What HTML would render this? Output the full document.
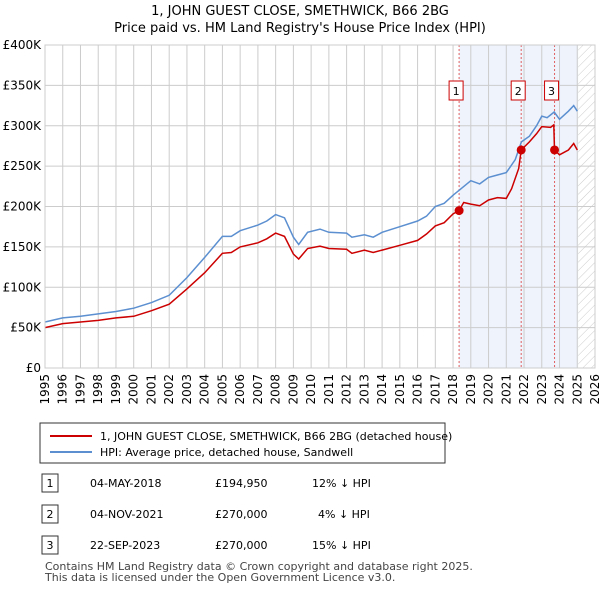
<!DOCTYPE html>
<html><head><meta charset="utf-8"><style>
body{margin:0;background:#fff;font-family:"DejaVu Sans","Liberation Sans",sans-serif;}
</style></head><body>
<svg width="600" height="590" xmlns="http://www.w3.org/2000/svg" font-family="DejaVu Sans, Liberation Sans, sans-serif">
<text x="300" y="15" text-anchor="middle" font-size="13">1, JOHN GUEST CLOSE, SMETHWICK, B66 2BG</text>
<text x="300" y="32" text-anchor="middle" font-size="13">Price paid vs. HM Land Registry's House Price Index (HPI)</text>
<defs><pattern id="hatch" width="6" height="6" patternUnits="userSpaceOnUse" patternTransform="rotate(45)"><line x1="0" y1="0" x2="0" y2="6" stroke="#ccc" stroke-width="1"/></pattern></defs>
<g id="plot"></g>
<g>
<rect x="40" y="423" width="405" height="40" fill="#fff" stroke="#333"/>
<line x1="50" y1="436" x2="92" y2="436" stroke="#cc0000" stroke-width="2"/>
<text x="100" y="440" font-size="11">1, JOHN GUEST CLOSE, SMETHWICK, B66 2BG (detached house)</text>
<line x1="50" y1="452" x2="92" y2="452" stroke="#5b8fd0" stroke-width="2"/>
<text x="100" y="456" font-size="11">HPI: Average price, detached house, Sandwell</text>
</g>
<g font-size="11">
<rect x="42" y="474" width="16" height="18" fill="#fff" stroke="#333"/><text x="50" y="487" text-anchor="middle">1</text>
<text x="90" y="487">04-MAY-2018</text><text x="215" y="487">£194,950</text><text x="312" y="487">12% ↓ HPI</text>
<rect x="42" y="505" width="16" height="18" fill="#fff" stroke="#333"/><text x="50" y="518" text-anchor="middle">2</text>
<text x="90" y="518">04-NOV-2021</text><text x="215" y="518">£270,000</text><text x="318" y="518">4% ↓ HPI</text>
<rect x="42" y="536" width="16" height="18" fill="#fff" stroke="#333"/><text x="50" y="549" text-anchor="middle">3</text>
<text x="90" y="549">22-SEP-2023</text><text x="215" y="549">£270,000</text><text x="312" y="549">15% ↓ HPI</text>
</g>
<text x="45" y="570" font-size="11" fill="#444">Contains HM Land Registry data © Crown copyright and database right 2025.</text>
<text x="45" y="581" font-size="11" fill="#444">This data is licensed under the Open Government Licence v3.0.</text>
</svg>
<script>
const hpiYears=[1995,1996,1997,1998,1999,2000,2001,2002,2003,2004,2005,2005.5,2006,2007,2007.5,2008,2008.5,2009,2009.3,2009.8,2010.5,2011,2012,2012.3,2013,2013.5,2014,2015,2016,2016.5,2017,2017.5,2018,2018.34,2019,2019.5,2020,2020.5,2021,2021.5,2021.85,2022.3,2022.7,2023,2023.3,2023.7,2024,2024.5,2024.8,2025];
const hpiValues=[57,62,64,67,70,74,81,90,112,137,163,163,170,177,182,190,186,162,153,168,172,168,167,162,165,162,168,175,182,188,200,204,214,220,232,228,236,239,242,258,280,287,300,312,310,317,308,318,325,318];
const priceYears=[1995,1996,1997,1998,1999,2000,2001,2002,2003,2004,2005,2005.5,2006,2007,2007.5,2008,2008.5,2009,2009.3,2009.8,2010.5,2011,2012,2012.3,2013,2013.5,2014,2015,2016,2016.5,2017,2017.5,2018,2018.34,2018.6,2019,2019.5,2020,2020.5,2021,2021.3,2021.7,2021.84,2022.3,2022.7,2023,2023.5,2023.68,2023.72,2024,2024.5,2024.8,2025];
const priceValues=[50,55,57,59,62,64,71,79,98,118,142,143,150,155,160,167,163,141,135,148,151,148,147,142,146,143,146,152,158,166,176,180,191,194.95,205,203,201,208,211,210,222,247,270,280,290,299,298,301,270,264,270,278,270];
const saleYears=[2018.34,2021.84,2023.72];
const saleValues=[194.95,270,270];
const saleLabels=["1","2","3"];
const yTicks=[0,50,100,150,200,250,300,350,400];
const yTickLabels=["£0","£50K","£100K","£150K","£200K","£250K","£300K","£350K","£400K"];
const xTicks=[1995,1996,1997,1998,1999,2000,2001,2002,2003,2004,2005,2006,2007,2008,2009,2010,2011,2012,2013,2014,2015,2016,2017,2018,2019,2020,2021,2022,2023,2024,2025,2026];
const X0=45,X1=595,Y0=368,Y1=45;
const xs=y=>X0+(y-1995)/(2026-1995)*(X1-X0);
const ys=v=>Y0-v/400*(Y0-Y1);
const NS="http://www.w3.org/2000/svg";
const g=document.getElementById('plot');
function mk(t,a){const e=document.createElementNS(NS,t);for(const k in a)e.setAttribute(k,a[k]);g.appendChild(e);return e;}
const hatchStart=2025.05;
let e=mk('rect',{x:xs(saleYears[0]),y:Y1,width:xs(hatchStart)-xs(saleYears[0]),height:Y0-Y1,fill:'#eef3fc'});


e=mk('rect',{x:xs(hatchStart),y:Y1,width:X1-xs(hatchStart),height:Y0-Y1,fill:'url(#hatch)'});


xTicks.forEach(t=>{
 e=mk('line',{x1:xs(t),x2:xs(t),y1:Y1,y2:Y0,stroke:'#ccc'});
 
 
 e=mk('text',{x:0,y:0,'font-size':12,'text-anchor':'end',transform:`translate(${xs(t)+4},${Y0+6}) rotate(-90)`});
 e.textContent=t;
 
 
});
yTicks.forEach((t,i)=>{
 e=mk('line',{x1:X0,x2:X1,y1:ys(t),y2:ys(t),stroke:'#ccc'});
 
 
 e=mk('text',{x:X0-4,y:ys(t)+4,'font-size':12,'text-anchor':'end'});
 e.textContent=yTickLabels[i];
 
 
});
saleYears.forEach((s,i)=>{
 e=mk('line',{x1:xs(s),x2:xs(s),y1:Y1,y2:Y0,stroke:'#e06060','stroke-dasharray':'2,2'});
 
 
 e=mk('rect',{x:xs(s)-10,y:81,width:14,height:19,fill:'#fff',stroke:'#c00'});
 
 
 e=mk('text',{x:xs(s)-3,y:95,'font-size':11,'text-anchor':'middle'});
 e.textContent=saleLabels[i];
 
 
});
function path(xa,va,c,n){
 const d=xa.map((x,i)=>(i?'L':'M')+xs(x).toFixed(1)+','+ys(va[i]).toFixed(1)).join('');
 const p=mk('path',{d:d,fill:'none',stroke:c,'stroke-width':1.5});
 
 
}
path(hpiYears,hpiValues,'#5b8fd0','hpi-line');
path(priceYears,priceValues,'#cc0000','price-paid-line');
saleYears.forEach((s,i)=>{
 e=mk('circle',{cx:xs(s),cy:ys(saleValues[i]),r:4.5,fill:'#cc0000'});
 
 
});
e=mk('rect',{x:X0,y:Y1,width:X1-X0,height:Y0-Y1,fill:'none',stroke:'#ccc'});


</script>
</body></html>
